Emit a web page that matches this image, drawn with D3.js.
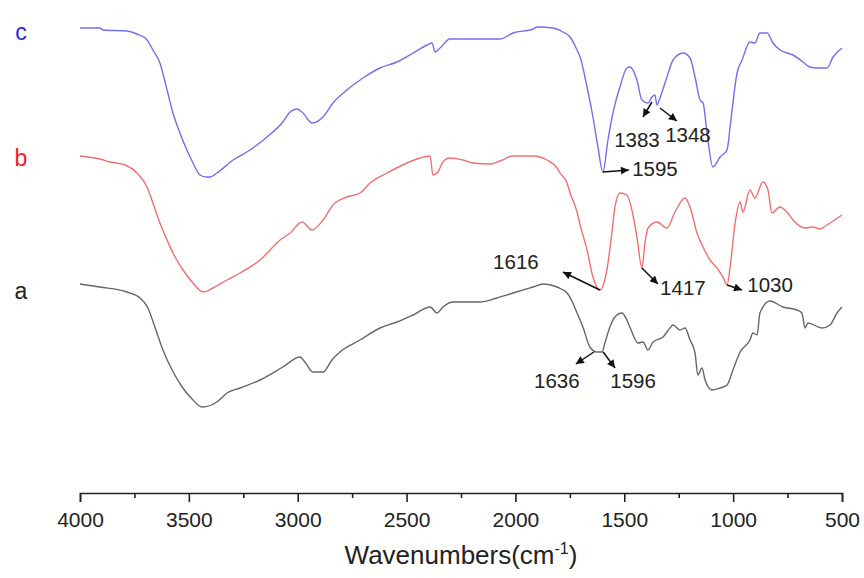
<!DOCTYPE html>
<html><head><meta charset="utf-8">
<script src="https://cdn.jsdelivr.net/npm/d3@7"></script>
<style>body{margin:0;background:#fff}svg{display:block;font-family:"Liberation Sans",Arial,sans-serif}</style>
</head><body>
<script>
// Wavenumbers (cm^-1) and transmittance (a.u., offset per sample)
const wavenumbersC = [4000,3908,3894,3784,3738,3692,3665,3633,3600,3573,3541,3509,3481,3449,3420,3403,3371,3297,3219,3141,3068,3035,3003,2976,2934,2884,2838,2774,2700,2622,2544,2470,2406,2383,2369,2346,2301,2222,2071,2011,1919,1901,1827,1782,1749,1717,1703,1671,1644,1621,1598,1575,1552,1520,1488,1474,1442,1419,1391,1373,1359,1350,1336,1304,1276,1230,1198,1175,1152,1138,1120,1093,1060,1028,1014,982,959,923,900,877,844,817,785,753,725,679,647,615,569,541,500];
const seriesC = [472,472,470,469,466,460,450,437,410,387,367,350,337,325,323,323,327,340,350,363,378,388,391,387,377,383,397,410,422,432,438,447,455,457,448,452,461,461,461,467,471,473,472,468,463,450,443,413,383,353,328,360,387,413,432,433,420,400,397,403,405,395,402,423,440,447,442,423,400,397,367,333,343,350,373,427,440,458,457,467,467,457,450,447,445,438,433,432,432,443,452];

const wavenumbersB = [4000,3908,3862,3793,3738,3692,3665,3633,3600,3573,3527,3481,3435,3389,3325,3265,3173,3081,3035,2980,2934,2884,2838,2774,2714,2668,2590,2498,2438,2392,2379,2356,2333,2301,2241,2195,2117,2071,2011,1919,1855,1809,1795,1763,1749,1717,1703,1671,1644,1612,1580,1557,1543,1520,1488,1465,1442,1419,1405,1391,1350,1304,1267,1221,1198,1166,1138,1106,1074,1047,1028,1014,991,968,955,923,900,863,840,822,785,753,725,670,633,601,569,500];
const seriesB = [344,341,338,335,327,313,297,277,260,247,230,217,208,212,220,227,240,260,267,278,270,280,295,303,307,317,327,337,342,344,325,328,338,342,340,337,336,339,344,344,340,332,327,317,307,288,275,250,223,210,230,267,293,307,305,290,263,232,257,272,278,272,288,302,293,267,253,240,232,223,215,233,277,298,288,310,302,318,310,287,293,288,280,272,273,271,275,285];

const wavenumbersA = [4000,3908,3784,3724,3688,3656,3619,3577,3531,3481,3440,3371,3325,3265,3173,3068,2990,2967,2930,2884,2843,2806,2714,2622,2544,2470,2392,2360,2333,2287,2163,2085,2011,1919,1873,1809,1763,1736,1717,1690,1658,1626,1602,1589,1566,1543,1511,1488,1465,1437,1414,1391,1368,1322,1290,1276,1244,1221,1198,1175,1162,1143,1129,1097,1060,1028,1001,968,923,909,890,877,831,771,707,684,670,656,592,555,523,500];
const seriesA = [216,213,208,202,192,173,150,130,113,100,93,98,107,112,120,133,143,138,128,128,140,148,160,172,178,185,193,187,193,198,198,202,207,213,216,213,207,197,187,173,153,148,148,157,173,183,187,180,168,157,158,150,158,163,172,175,170,172,160,147,125,132,120,110,112,115,130,148,160,167,165,187,199,193,190,187,172,177,172,175,187,193];

const seriesNames = ["c","b","a"];
const xTicksMajor = [4000,3500,3000,2500,2000,1500,1000,500];
const xTicksMinor = [3750,3250,2750,2250,1750,1250,750];
const xTitle = "Wavenumbers(cm";

// annotations: [label, wavenumber of the marked point on the curve]
const annC = [["1595",1598],["1383",1373],["1348",1350]];
const annB = [["1616",1612],["1417",1419],["1030",1028]];
const annA = [["1636",1626],["1596",1602]];

const W = 864, H = 578;
const svg = d3.select("body").append("svg").attr("width", W).attr("height", H);
const x = d3.scaleLinear().domain([4000, 500]).range([80, 842]);
const y = d3.scaleLinear().domain([0, 500]).range([500, 0]);

const defs = svg.append("defs");
defs.append("marker").attr("id","ah").attr("viewBox","0 0 10 10").attr("refX",10).attr("refY",5)
  .attr("markerWidth",10).attr("markerHeight",8).attr("markerUnits","userSpaceOnUse").attr("orient","auto")
  .append("path").attr("d","M0,0L10,5L0,10Z").attr("fill","#111");

const colors = {c:"#7070ee", b:"#f07070", a:"#666666"};
const labelColors = {c:"#2a2ad0", b:"#ee2222", a:"#222"};
const data = {c:[wavenumbersC, seriesC], b:[wavenumbersB, seriesB], a:[wavenumbersA, seriesA]};
const line = d3.line().x(d => x(d[0])).y(d => y(d[1])).curve(d3.curveMonotoneX);

seriesNames.forEach(n => {
  const pts = data[n][0].map((w,i) => [w, data[n][1][i]]);
  svg.append("path").datum(pts).attr("d", line).attr("fill","none")
    .attr("stroke", colors[n]).attr("stroke-width", 1.4).attr("stroke-linejoin","round");
});

// series letters
const letterY = {c: y(seriesC[0]) + 12, b: y(seriesB[0]) + 10, a: y(seriesA[0]) + 15};
seriesNames.forEach(n => {
  svg.append("text").attr("x", 21).attr("y", letterY[n]).attr("text-anchor","middle")
    .attr("font-size", 23).attr("fill", labelColors[n]).text(n);
});

// axis
const gAxis = svg.append("g").attr("transform","translate(0,493)");
gAxis.call(d3.axisBottom(x).tickValues(xTicksMajor).tickSize(9).tickPadding(10).tickFormat(d3.format("d")));
gAxis.append("g").call(d3.axisBottom(x).tickValues(xTicksMinor).tickSize(5).tickFormat("")).select(".domain").remove();
gAxis.selectAll("path,line").attr("stroke","#222").attr("stroke-width",1.6);
gAxis.selectAll("text").attr("font-size", 21).attr("fill","#222").attr("font-family","Liberation Sans, Arial, sans-serif");

const t = svg.append("text").attr("x", 461).attr("y", 564).attr("text-anchor","middle")
  .attr("font-size", 26).attr("fill","#222");
t.append("tspan").text(xTitle);
t.append("tspan").attr("font-size", 16).attr("dy", -10).text("-1");
t.append("tspan").attr("dy", 10).text(")");

// annotations
function ann(series, list, specs) {
  list.forEach((a, i) => {
    const s = specs[i];
    const idx = data[series][0].indexOf(a[1]);
    const px = x(a[1]) + s.sx, py = y(data[series][1][idx]) + s.sy;
    svg.append("line").attr("x1", px).attr("y1", py).attr("x2", px + s.dx).attr("y2", py + s.dy)
      .attr("stroke","#111").attr("stroke-width",1.5).attr("marker-end","url(#ah)");
    svg.append("text").attr("x", px + s.tx).attr("y", py + s.ty).attr("text-anchor","middle")
      .attr("font-size", 20.5).attr("fill","#222").text(a[0]);
  });
}
ann("c", annC, [
  {sx:0, sy:0, dx:26, dy:-2, tx:52, ty:4},
  {sx:0, sy:5, dx:-9, dy:15, tx:-15, ty:45},
  {sx:3, sy:3, dx:17, dy:13, tx:28, ty:34}
]);
ann("b", annB, [
  {sx:0, sy:0, dx:-37, dy:-18, tx:-84, ty:-21},
  {sx:0, sy:0, dx:16, dy:16, tx:41, ty:27},
  {sx:0, sy:0, dx:15, dy:5, tx:43, ty:7}
]);
ann("a", annA, [
  {sx:-3, sy:0, dx:-18, dy:12, tx:-37, ty:36},
  {sx:1, sy:0, dx:12, dy:16, tx:30, ty:36}
]);
</script>
</body></html>
